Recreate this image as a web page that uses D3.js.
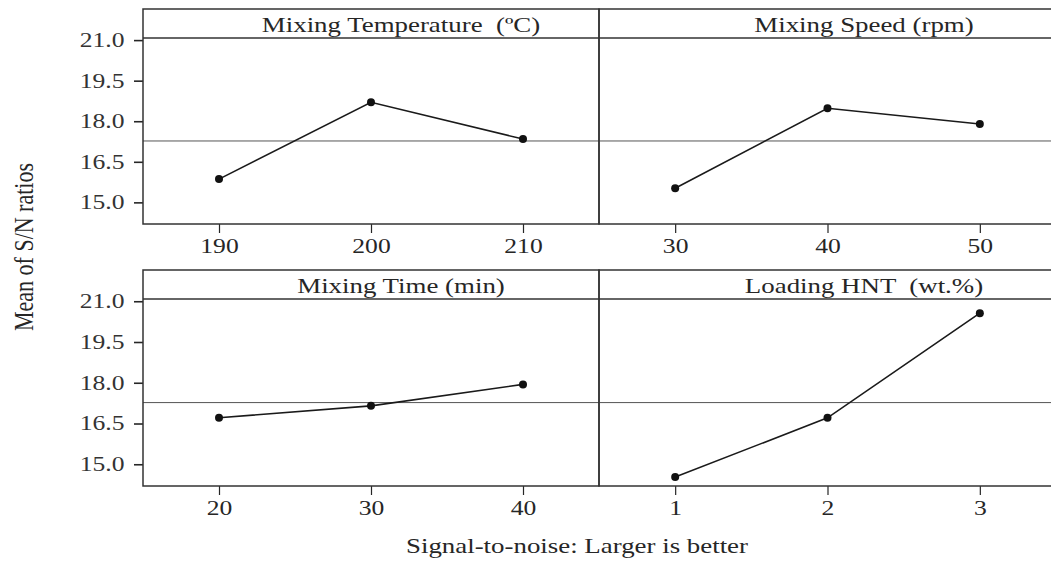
<!DOCTYPE html>
<html>
<head>
<meta charset="utf-8">
<script src="https://cdn.jsdelivr.net/npm/d3@7"></script>
<style>
  body { margin: 0; background: #fff; }
  svg { display: block; }
  svg text { font-family: "Liberation Serif", "Times New Roman", serif; white-space: pre; }
</style>
</head>
<body>
<script>
// Datos
const titles = ["Mixing Temperature  (\u00BAC)", "Mixing Speed (rpm)", "Mixing Time (min)", "Loading HNT  (wt.%)"];
const levelsTemp = ["190", "200", "210"];
const levelsSpeed = ["30", "40", "50"];
const levelsTime = ["20", "30", "40"];
const levelsHNT = ["1", "2", "3"];
const snTemp = [15.86, 18.70, 17.34];
const snSpeed = [15.52, 18.48, 17.90];
const snTime = [16.71, 17.15, 17.94];
const snHNT = [14.53, 16.71, 20.56];
const yTicks = [15.0, 16.5, 18.0, 19.5, 21.0];
const grandMean = 17.27;

// Variables
const w = 1051;
const h = 563;
const xEdges = [143, 599, 1056];
const rows = [[9, 224], [270, 486]];
const stripH = 29;
const sx = 1.28; // el original está estirado en horizontal
const ink = "#262626";

const panels = [
  { title: titles[0], levels: levelsTemp, vals: snTemp, col: 0, row: 0 },
  { title: titles[1], levels: levelsSpeed, vals: snSpeed, col: 1, row: 0 },
  { title: titles[2], levels: levelsTime, vals: snTime, col: 0, row: 1 },
  { title: titles[3], levels: levelsHNT, vals: snHNT, col: 1, row: 1 }
];

const svg = d3.select("body")
  .append("svg")
  .attr("width", w)
  .attr("height", h);

panels.forEach(p => {
  const x0 = xEdges[p.col], x1 = xEdges[p.col + 1];
  const [top, bottom] = rows[p.row];

  const xScale = d3.scalePoint()
    .domain(p.levels)
    .range([x0, x1])
    .padding(0.5);

  const yScale = d3.scaleLinear()
    .domain([14.2, 22.15])
    .range([bottom, top]);

  // Eje X
  const gx = svg.append("g")
    .attr("transform", "translate(0," + bottom + ")")
    .call(d3.axisBottom(xScale).tickSize(9).tickPadding(6).tickSizeOuter(0));
  gx.select(".domain").remove();
  gx.selectAll("line").attr("stroke", ink).attr("stroke-width", 1.2);
  gx.selectAll("text")
    .attr("font-size", 20)
    .attr("fill", ink)
    .attr("transform", "scale(" + sx + ",1)");

  // Eje Y (solo en la columna izquierda)
  if (p.col === 0) {
    const gy = svg.append("g")
      .attr("transform", "translate(" + x0 + ",0)")
      .call(d3.axisLeft(yScale).tickValues(yTicks).tickFormat(d3.format(".1f"))
        .tickSize(9).tickPadding(5.5).tickSizeOuter(0));
    gy.select(".domain").remove();
    gy.selectAll("line").attr("stroke", ink).attr("stroke-width", 1.6);
    gy.selectAll("text")
      .attr("font-size", 20)
      .attr("fill", "#333")
      .attr("transform", "scale(" + sx + ",1)");
  }

  // Línea de la media
  svg.append("line")
    .attr("x1", x0).attr("x2", x1)
    .attr("y1", yScale(grandMean)).attr("y2", yScale(grandMean))
    .attr("stroke", "#555")
    .attr("stroke-width", 1);

  // Marco del panel y franja del título
  svg.append("rect")
    .attr("x", x0).attr("y", top)
    .attr("width", x1 - x0).attr("height", bottom - top)
    .attr("fill", "none")
    .attr("stroke", "#333")
    .attr("stroke-width", 1.5);
  svg.append("line")
    .attr("x1", x0).attr("x2", x1)
    .attr("y1", top + stripH).attr("y2", top + stripH)
    .attr("stroke", "#333")
    .attr("stroke-width", 1.5);

  const tx = x0 + (p.col === 0 ? 258 : 265);
  svg.append("text")
    .attr("transform", "translate(" + tx + "," + (top + 23) + ") scale(" + sx + ",1)")
    .attr("text-anchor", "middle")
    .attr("font-size", 21)
    .attr("fill", ink)
    .text(p.title);

  // Línea de datos
  const pts = p.levels.map((l, i) => [xScale(l), yScale(p.vals[i])]);
  svg.append("path")
    .attr("d", d3.line()(pts))
    .attr("fill", "none")
    .attr("stroke", "#1a1a1a")
    .attr("stroke-width", 1.6);
  svg.selectAll(null)
    .data(pts)
    .enter()
    .append("circle")
    .attr("cx", d => d[0])
    .attr("cy", d => d[1])
    .attr("r", 4)
    .attr("fill", "#111");
});

// Título eje Y
svg.append("text")
  .attr("transform", "translate(33,247) scale(" + sx + ",1) rotate(-90)")
  .attr("text-anchor", "middle")
  .attr("font-size", 22)
  .attr("fill", ink)
  .text("Mean of S/N ratios");

// Título eje X
svg.append("text")
  .attr("transform", "translate(577,553) scale(" + sx + ",1)")
  .attr("text-anchor", "middle")
  .attr("font-size", 21)
  .attr("fill", ink)
  .text("Signal-to-noise: Larger is better");
</script>
</body>
</html>
